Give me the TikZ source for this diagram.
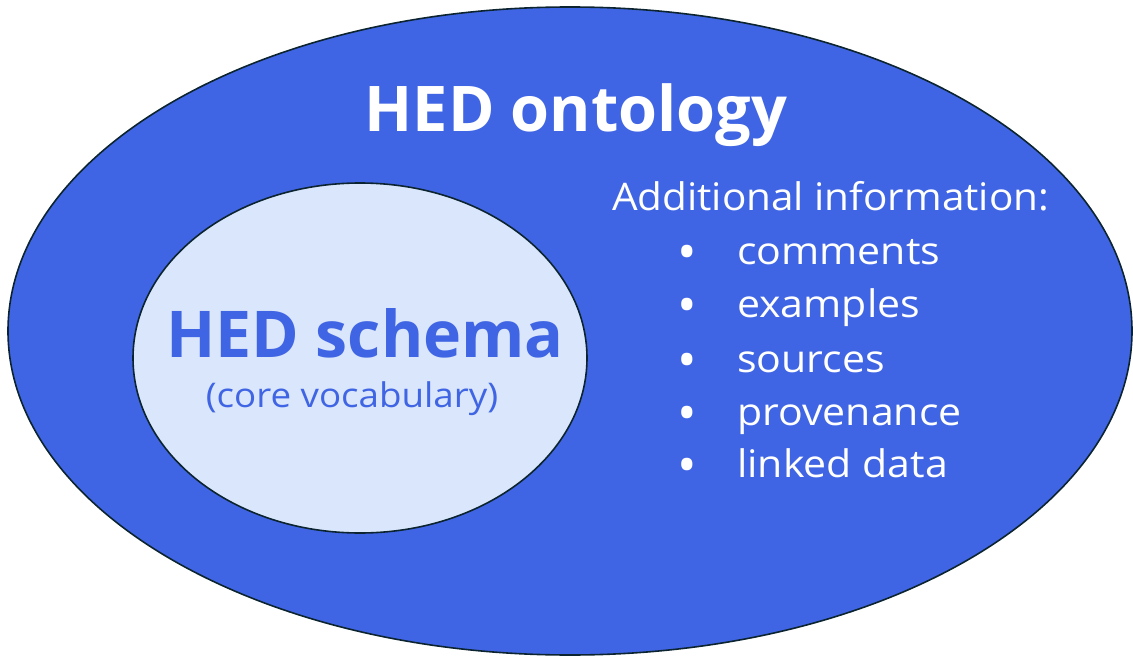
\documentclass[tikz,border=0pt]{standalone}
\usepackage{fontspec}
\setmainfont{Open Sans}
\newfontfamily\infofont[FakeStretch=1.08]{Open Sans}
\newfontfamily\addfont[FakeStretch=1.065]{Open Sans}
\usetikzlibrary{shapes.geometric}
\definecolor{outerblue}{RGB}{64,101,228}
\definecolor{innerblue}{RGB}{217,230,251}
\definecolor{edgedark}{RGB}{12,36,48}
\definecolor{textblue}{RGB}{64,101,228}
\tikzset{
  blob/.style={ellipse, draw=edgedark, line width=1.6pt, inner sep=0pt},
  titletext/.style={anchor=base, inner sep=0pt, font=\bfseries},
  infotext/.style={anchor=base west, inner sep=0pt, text=white, font=\infofont\fontsize{38}{44}\selectfont},
  bul/.style={anchor=center, inner sep=0pt, text=white, font=\fontsize{52}{60}\selectfont}
}
\begin{document}
\begin{tikzpicture}[x=1pt,y=-1pt]
\useasboundingbox (0,0) rectangle (1133,658);
\node[blob, fill=outerblue, minimum width=1124pt, minimum height=648pt] (outer) at (570,331) {};
\node[blob, fill=innerblue, minimum width=454pt, minimum height=350pt] (inner) at (360,358) {};
\node[titletext, text=white, font=\fontsize{63}{70}\selectfont\bfseries] (onto) at (576,132) {HED ontology};
\node[titletext, text=textblue, font=\fontsize{64.5}{70}\selectfont\bfseries] (schema) at (365,357) {HED schema};
\node[anchor=base, inner sep=0pt, text=textblue, font=\infofont\fontsize{34}{40}\selectfont] (core) at (352,407) {(core vocabulary)};
\node[infotext, font=\addfont\fontsize{38}{44}\selectfont] (add) at (612,210) {Additional information:};
\node[bul] (b1) at (687,258) {•};
\node[bul] (b2) at (687,311) {•};
\node[bul] (b3) at (687,366) {•};
\node[bul] (b4) at (687,419) {•};
\node[bul] (b5) at (687,471) {•};
\node[infotext] (i1) at (737,264) {comments};
\node[infotext] (i2) at (737,317) {examples};
\node[infotext] (i3) at (737,372) {sources};
\node[infotext] (i4) at (737,425) {provenance};
\node[infotext] (i5) at (737,477) {linked data};
\end{tikzpicture}
\end{document}
